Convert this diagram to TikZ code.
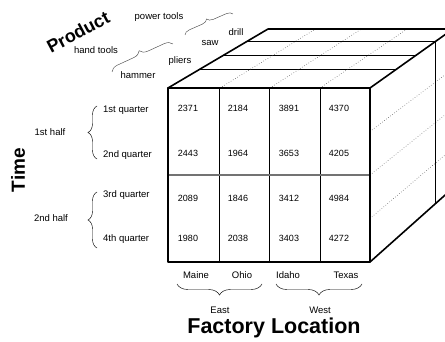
\documentclass[tikz,border=0pt]{standalone}
\usepackage{fontspec}
\setmainfont{Liberation Sans}
\usetikzlibrary{decorations.pathreplacing,calc}
\begin{document}
\begin{tikzpicture}[x=1pt,y=-1pt,
  lbl/.style={font=\fontsize{9.5}{10}\selectfont, inner sep=0pt},
  num/.style={font=\fontsize{9}{9}\selectfont, inner sep=0pt},
  ttl/.style={font=\fontsize{#1}{#1}\selectfont\bfseries, inner sep=0pt},
  brc/.style={decorate, decoration={brace, amplitude=#1}, line width=0.45pt},
  edge/.style={line width=1.6pt, line cap=round, line join=round},
  grid/.style={line width=0.55pt},
  dots/.style={dotted, line width=0.55pt, black!70}]
\useasboundingbox (0,0) rectangle (445,342);
\clip (0,0) rectangle (445,342);
% cube corners
\coordinate (FTL) at (168,88);
\coordinate (FTR) at (370,88);
\coordinate (FBL) at (168,262);
\coordinate (FBR) at (370,262);
\coordinate (BTL) at (268,29);
\coordinate (BTR) at (453,29);
\coordinate (BBR) at (453,188);
% top face slices
\foreach \f in {0.32,0.56,0.79}
  \draw[grid] ($(FTL)!\f!(BTL)$) -- ($(FTR)!\f!(BTR)$);
\draw[dots] (220,88) -- ($(BTL)!0.257!(BTR)$);
\draw[dots] (270,88) -- ($(BTL)!0.505!(BTR)$);
\draw[dots] (320,88) -- ($(BTL)!0.752!(BTR)$);
% right face
\foreach \f in {0.25,0.5,0.75}
  \draw[dots] ($(FTR)!\f!(FBR)$) -- ($(BTR)!\f!(BBR)$);
\draw[grid] ($(FTR)!0.79!(BTR)$) -- ($(FBR)!0.79!(BBR)$);
% front face grid
\draw[grid] (219,88) -- (219,262);
\draw[grid] (269,88) -- (269,262);
\draw[grid] (320,88) -- (320,262);
\draw[line width=1.3pt, black!55] (168,175) -- (370,175);
% outer edges
\draw[edge] (FTL) rectangle (FBR);
\draw[edge] (FTL) -- (BTL) -- (BTR);
\draw[edge] (FTR) -- (BTR);
\draw[edge] (FBR) -- (BBR);
% numbers
\node[num] (n11) at (188,108) {2371};
\node[num] (n12) at (238,108) {2184};
\node[num] (n13) at (289,108) {3891};
\node[num] (n14) at (339,108) {4370};
\node[num] (n21) at (188,153) {2443};
\node[num] (n22) at (238,153) {1964};
\node[num] (n23) at (289,153) {3653};
\node[num] (n24) at (339,153) {4205};
\node[num] (n31) at (188,198) {2089};
\node[num] (n32) at (238,198) {1846};
\node[num] (n33) at (289,198) {3412};
\node[num] (n34) at (339,198) {4984};
\node[num] (n41) at (188,238) {1980};
\node[num] (n42) at (238,238) {2038};
\node[num] (n43) at (289,238) {3403};
\node[num] (n44) at (339,238) {4272};
% Time axis
\node[ttl=19, rotate=90] (time) at (18,170) {Time};
\node[lbl] (h1) at (50,132) {1st half};
\node[lbl] (h2) at (51,218) {2nd half};
\node[lbl, anchor=west] (q1) at (103,110) {1st quarter};
\node[lbl, anchor=west] (q2) at (103,155) {2nd quarter};
\node[lbl, anchor=west] (q3) at (103,195) {3rd quarter};
\node[lbl, anchor=west] (q4) at (103,239) {4th quarter};
\coordinate (t1a) at (97,159); \coordinate (t1b) at (97,106);
\coordinate (t2a) at (97,248); \coordinate (t2b) at (97,192);
\draw[brc=9] (t1a) -- (t1b);
\draw[brc=9] (t2a) -- (t2b);
% Location axis
\node[lbl] (maine) at (196,275) {Maine};
\node[lbl] (ohio) at (242,275) {Ohio};
\node[lbl] (idaho) at (288,275) {Idaho};
\node[lbl] (texas) at (346,275) {Texas};
\node[lbl] (east) at (220,310) {East};
\node[lbl] (west) at (320,310) {West};
\node[ttl=21.5] (loc) at (274,328) {Factory Location};
\coordinate (e1) at (262,284); \coordinate (e2) at (177,284);
\coordinate (w1) at (362,284); \coordinate (w2) at (276,284);
\draw[brc=11] (e1) -- (e2);
\draw[brc=11] (w1) -- (w2);
% Product axis
\node[ttl=18, rotate=28] (prod) at (78,32) {Product};
\node[lbl] (pt) at (159,17) {power tools};
\node[lbl] (ht) at (96,50) {hand tools};
\node[lbl] (hammer) at (138,75) {hammer};
\node[lbl] (pliers) at (180,61) {pliers};
\node[lbl] (saw) at (210,43) {saw};
\node[lbl] (drill) at (236,32) {drill};
\coordinate (p1a) at (112,72); \coordinate (p1b) at (173,44);
\coordinate (p2a) at (185,35); \coordinate (p2b) at (233,14);
\draw[brc=8, black!70] (p1a) -- (p1b);
\draw[brc=6, black!70] (p2a) -- (p2b);
\end{tikzpicture}
\end{document}
